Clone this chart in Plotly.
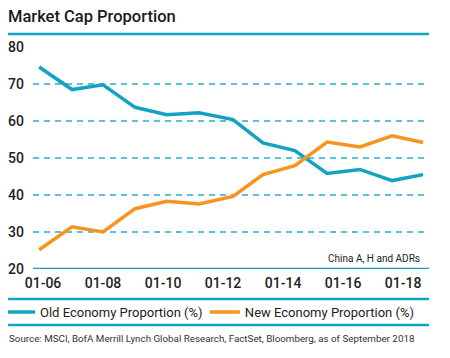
import plotly.graph_objects as go

# ---- data ----
dates = ["2005-11-15", "2006-12-20", "2008-01-01", "2009-01-25", "2010-02-15",
         "2011-03-15", "2012-05-01", "2013-05-01", "2014-05-25", "2015-06-20",
         "2016-07-25", "2017-08-20", "2018-09-01"]
old_economy = [74.6, 68.5, 69.8, 63.7, 61.7, 62.2, 60.4, 54.1, 52.0, 45.8, 46.9, 43.9, 45.5]
new_economy = [25.2, 31.4, 30.0, 36.3, 38.3, 37.6, 39.6, 45.5, 47.9, 54.3, 53.0, 56.0, 54.2]
tick_dates = ["2006-01-01", "2008-01-01", "2010-01-01", "2012-01-01",
              "2014-01-01", "2016-01-01", "2018-01-01"]
tick_labels = ["01-06", "01-08", "01-10", "01-12", "01-14", "01-16", "01-18"]
y_ticks = [20, 30, 40, 50, 60, 70, 80]

TEAL = "#12A3C2"
ORANGE = "#F7941D"
GRID = "#5DC2D9"
FONT = "Roboto"

fig = go.Figure()
fig.add_trace(go.Scatter(x=dates, y=old_economy, mode="lines",
                         name="Old Economy Proportion (%)",
                         line=dict(color=TEAL, width=3.5), legend="legend"))
fig.add_trace(go.Scatter(x=dates, y=new_economy, mode="lines",
                         name="New Economy Proportion (%)",
                         line=dict(color=ORANGE, width=3.5), legend="legend2"))

leg_common = dict(orientation="h", y=-0.194, yanchor="middle", xanchor="left",
                  font=dict(family=FONT, size=13, color="#222222"),
                  bgcolor="rgba(0,0,0,0)")

fig.update_layout(
    width=450, height=358,
    margin=dict(l=25, r=29, t=39, b=97, autoexpand=False),
    paper_bgcolor="white", plot_bgcolor="white",
    font=dict(family=FONT, size=13, color="#222222"),
    showlegend=True,
    legend=dict(x=-0.0833, **leg_common),
    legend2=dict(x=0.434, **leg_common),
    xaxis=dict(type="date", range=["2005-09-01", "2018-11-12"],
               tickvals=tick_dates, ticktext=tick_labels,
               showgrid=False, zeroline=False, showline=False,
               ticks="", tickfont=dict(size=14, color="#222222", weight=500),
               ticklabelstandoff=4, automargin=False, fixedrange=True),
    yaxis=dict(range=[20, 80], tickvals=y_ticks,
               showgrid=True, gridcolor=GRID, griddash="6px,5px", gridwidth=1.5,
               zeroline=False, showline=False, ticks="",
               tickfont=dict(size=14, color="#222222", weight=500),
               ticklabelstandoff=8, automargin=False, fixedrange=True),
)

# baseline at 20 (solid teal)
fig.add_hline(y=20, line=dict(color=TEAL, width=2.5), layer="above")

# decorative rules
for yp in [1.059, -0.135, -0.252]:
    fig.add_shape(type="line", xref="paper", yref="paper",
                  x0=-0.063, x1=1.0, y0=yp, y1=yp,
                  line=dict(color=TEAL, width=2.5))

fig.add_annotation(text="Market Cap Proportion", xref="paper", yref="paper",
                   x=-0.066, y=1.136, xanchor="left", yanchor="middle",
                   showarrow=False, borderpad=0,
                   font=dict(family=FONT, size=16.5, color="#1a1a1a", weight=500))
fig.add_annotation(text="China A, H and ADRs", xref="paper", yref="paper",
                   x=0.982, y=(269 - 258) / 222, xanchor="right", yanchor="middle",
                   showarrow=False, font=dict(family=FONT, size=10, color="#222222"))
fig.add_annotation(text="Source: MSCI, BofA Merrill Lynch Global Research, FactSet, Bloomberg, as of September 2018",
                   xref="paper", yref="paper",
                   x=-0.066, y=-0.315, xanchor="left", yanchor="middle",
                   showarrow=False, font=dict(family=FONT, size=9.8, color="#333333"))

fig.write_html("out.html")
